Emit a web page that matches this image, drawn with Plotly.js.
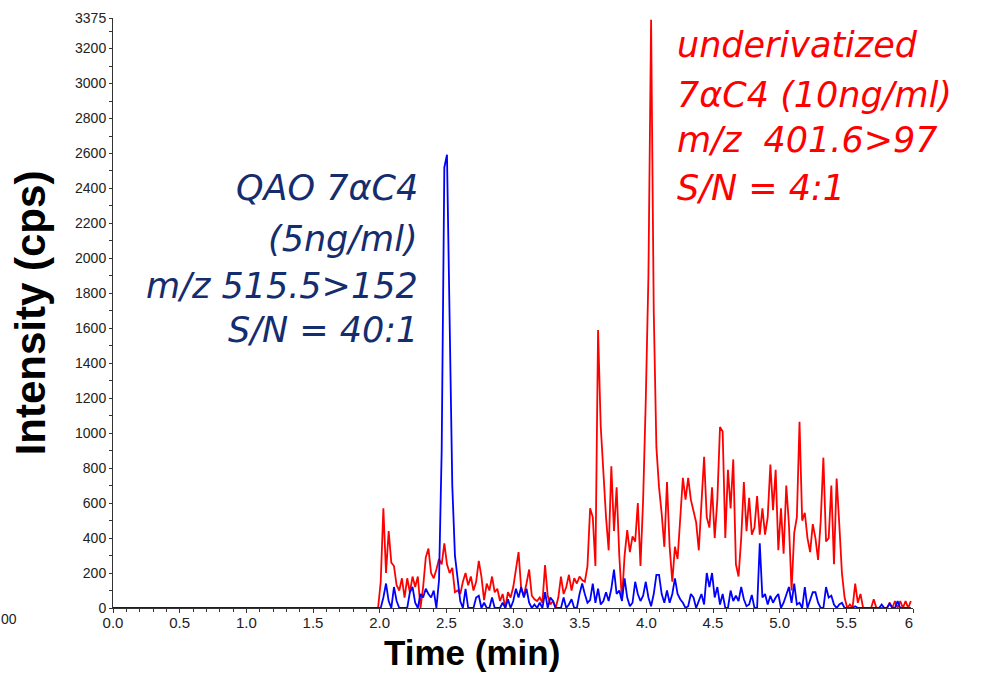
<!DOCTYPE html>
<html>
<head>
<meta charset="utf-8">
<script src="https://cdn.plot.ly/plotly-3.0.1.min.js"></script>
<style>html,body{margin:0;padding:0;background:#fff;}#chart{width:986px;height:673px;}</style>
</head>
<body>
<div id="chart"></div>
<script>
// Acquisition grid (min) for the chromatogram signals
const scanStart = 1.988;
const scanStep = 0.01988;
// Pre-run flat baseline (min / cps)
const preRunTime = [0.0, 2.0];
const preRunSignal = [0, 0];

// Underivatized 7αC4, m/z 401.6>97 (cps)
const underivatizedSignal = [
  0,150,570,200,440,260,240,130,100,170,60,170,90,180,120,180,0,120,290,340,200,170,220,280,250,370,250,200,230,90,100,80,150,200,130,180,
  100,150,270,180,45,140,100,180,90,110,40,80,0,90,60,120,220,320,110,70,140,220,70,50,40,60,30,245,70,20,40,0,60,180,80,120,190,100,170,140,180,160,150,240,
  570,520,240,1590,1040,760,520,330,810,440,690,300,45,300,445,320,410,380,600,240,620,1190,1900,3365,1700,920,690,540,350,720,350,150,350,280,510,745,620,745,620,560,490,330,600,
  865,520,460,690,400,620,1035,1010,400,790,570,850,250,180,400,720,440,630,420,460,640,420,570,420,520,820,560,790,330,570,310,700,480,100,430,520,1065,500,
  545,400,320,480,400,275,500,860,380,400,700,250,740,480,200,60,0,20,0,140,30,80,0,0,0,0,50,0,0,0,0,0,30,0,40,0,40,0,40,0,40
];

// QAO 7αC4, m/z 515.5>152 (cps)
const qaoSignal = [
  0,0,60,140,40,0,120,40,0,0,0,0,90,120,30,0,80,60,110,80,60,100,0,160,900,2520,2593,1700,700,300,180,40,0,110,0,0,
  0,60,70,0,30,0,0,60,0,0,0,30,0,50,0,40,110,60,120,60,110,30,0,20,0,30,0,90,0,60,40,0,0,0,60,0,20,50,0,0,80,140,80,30,
  45,140,30,110,20,40,90,40,110,220,80,100,40,170,60,10,30,150,80,40,70,150,60,10,80,190,190,80,30,100,30,80,170,80,50,30,0,10,80,60,0,40,80,
  20,200,120,200,60,120,20,80,0,0,100,40,70,40,120,50,10,20,75,0,0,370,60,80,20,70,30,60,80,0,30,70,120,30,140,20,30,0,
  120,0,40,90,90,30,0,0,120,60,70,20,0,20,30,0,0,0,0,10,0,0,0,0,0,0,0,0,0,20,0,0,25,0,0,40,0,0,0,0,0
];

// Axis ticks
const xTickVals = [0,0.5,1,1.5,2,2.5,3,3.5,4,4.5,5,5.5,6];
const xTickText = ['0.0','0.5','1.0','1.5','2.0','2.5','3.0','3.5','4.0','4.5','5.0','5.5','6\u00a0\u00a0'];
const yTickVals = [0,200,400,600,800,1000,1200,1400,1600,1800,2000,2200,2400,2600,2800,3000,3200,3375];
const yTickText = yTickVals.map(String);

// Annotation texts
const qaoLabel = ['QAO 7\u03b1C4', '(5ng/ml)', 'm/z 515.5>152', 'S/N = 40:1'];
const underivLabel = ['underivatized', '7\u03b1C4 (10ng/ml)', 'm/z\u00a0 401.6>97', 'S/N = 4:1'];

const FONT = 'Liberation Sans, Arial, sans-serif';
const LABELFONT = 'DejaVu Sans, Verdana, sans-serif';
const RED = '#ff0000';
const BLUE = '#0000ff';
const NAVY = '#142d6e';

const traces = [
  {type:'scatter', mode:'lines', x0: scanStart, dx: scanStep, y: underivatizedSignal,
   line:{color: RED, width: 1.8}, hoverinfo:'skip'},
  {type:'scatter', mode:'lines', x: preRunTime, y: preRunSignal,
   line:{color: BLUE, width: 1.8}, hoverinfo:'skip'},
  {type:'scatter', mode:'lines', x0: scanStart, dx: scanStep, y: qaoSignal,
   line:{color: BLUE, width: 1.8}, hoverinfo:'skip'}
];

const plotL = 113, plotR = 913, plotT = 18, plotB = 608;
const W = 986, H = 673;
const px = v => (v - plotL) / (plotR - plotL);
const py = v => (plotB - v) / (plotB - plotT);

const annotations = [];
const qaoY = [188, 239, 286, 330];
qaoLabel.forEach((t, i) => annotations.push({
  xref:'paper', yref:'paper', x: px(420), y: py(qaoY[i]), xanchor:'right', yanchor:'middle',
  text: t, showarrow:false, font:{family: LABELFONT, size: 35, color: NAVY, style:'italic'}
}));
const undY = [45, 95, 140, 188];
underivLabel.forEach((t, i) => annotations.push({
  xref:'paper', yref:'paper', x: px(675), y: py(undY[i]), xanchor:'left', yanchor:'middle',
  text: t, showarrow:false, font:{family: LABELFONT, size: 35, color: RED, style:'italic'}
}));
annotations.push({
  xref:'paper', yref:'paper', x: px(472), y: py(672.5), xanchor:'center', yanchor:'bottom',
  text:'<b>Time (min)</b>', showarrow:false, borderpad:0, font:{family: FONT, size: 35, color:'#000'}
});
annotations.push({
  xref:'paper', yref:'paper', x: px(0), y: py(619), xanchor:'left', yanchor:'middle',
  text:'00', showarrow:false, borderpad:0, font:{family: FONT, size: 14, color:'#222'}
});

const layout = {
  width: W, height: H,
  margin: {l: plotL, r: W - plotR, t: plotT, b: H - plotB, pad: 0},
  paper_bgcolor:'#fff', plot_bgcolor:'#fff',
  showlegend:false,
  font:{family: FONT, color:'#222'},
  xaxis:{
    range:[0, 6], tickmode:'array', tickvals: xTickVals, ticktext: xTickText,
    showline:true, linecolor:'#333', linewidth:1, mirror:false,
    ticks:'outside', ticklen:4, tickcolor:'#333', tickfont:{size:15, color:'#222'},
    ticklabelstandoff: -3,
    minor:{tickmode:'linear', tick0:0, dtick:0.1, ticks:'outside', ticklen:3, tickcolor:'#333', showgrid:false},
    showgrid:false, zeroline:false, fixedrange:true
  },
  yaxis:{
    range:[0, 3375], tickmode:'array', tickvals: yTickVals, ticktext: yTickText,
    showline:true, linecolor:'#333', linewidth:1,
    ticks:'outside', ticklen:3, tickcolor:'#333', tickfont:{size:14, color:'#222'},
    minor:{tickmode:'linear', tick0:0, dtick:100, ticks:'outside', ticklen:3, tickcolor:'#333', showgrid:false},
    showgrid:false, zeroline:false, fixedrange:true,
    title:{text:'<b>Intensity (cps)</b>', font:{family: FONT, size: 42, color:'#000'}, standoff: 16}
  },
  annotations: annotations
};

Plotly.newPlot('chart', traces, layout, {displayModeBar:false, staticPlot:true});
</script>
</body>
</html>
